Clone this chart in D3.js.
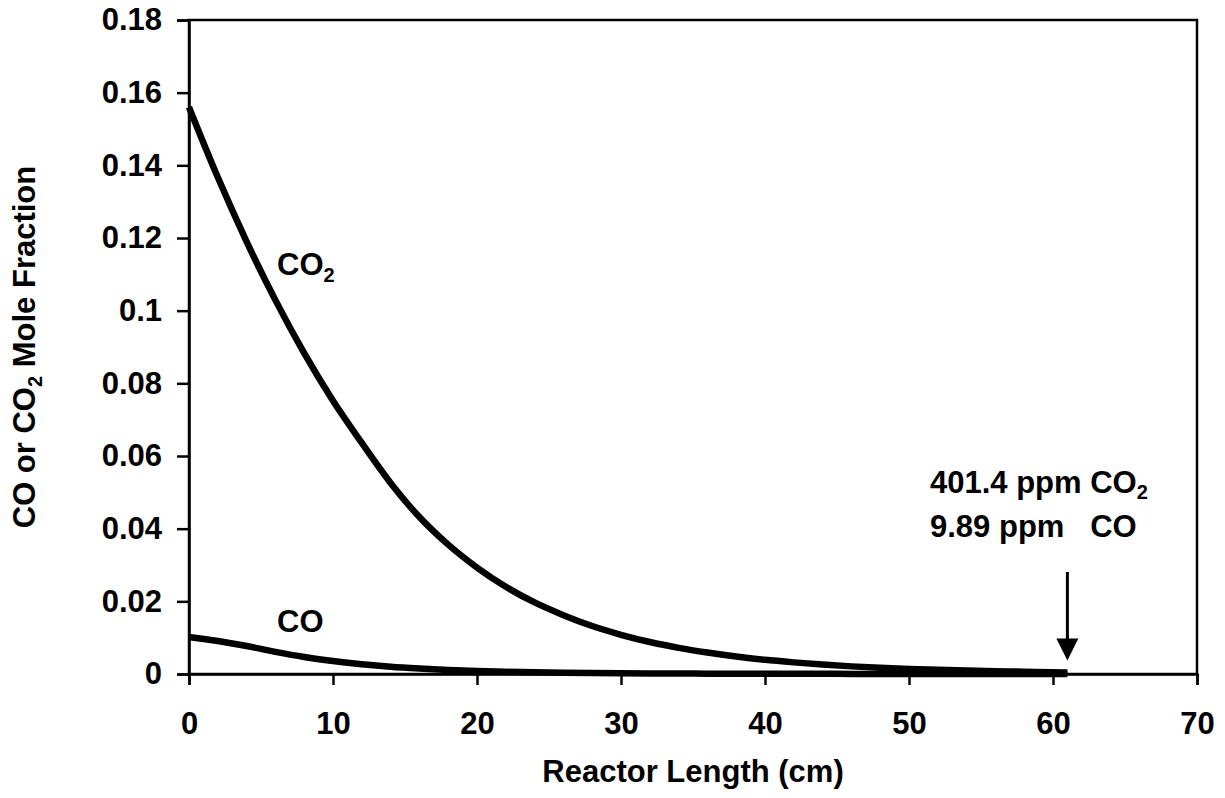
<!DOCTYPE html>
<html>
<head>
<meta charset="utf-8">
<script src="https://cdn.jsdelivr.net/npm/d3@7"></script>
<style>
  html, body { margin: 0; padding: 0; background: #fff; }
  svg text { font-family: "Liberation Sans", Arial, sans-serif; font-weight: bold; fill: #000; }
</style>
</head>
<body>
<svg id="chart" width="1225" height="798"></svg>
<script>
// Reactor position (cm)
const lengthCm = [0, 2, 4, 6, 8, 10, 12, 14, 16, 18, 20, 22, 24, 26, 28, 30, 32, 34, 36, 38, 40, 42, 44, 46, 48, 50, 52, 54, 56, 58, 60, 61];
// CO2 mole fraction along the reactor
const co2Fraction = [0.1560, 0.1367, 0.1190, 0.1029, 0.0883, 0.0752, 0.0636, 0.0526, 0.0432, 0.0356, 0.0293, 0.0240, 0.0197, 0.0162, 0.0132, 0.0108, 0.0088, 0.0072, 0.0059, 0.0048, 0.0039, 0.0032, 0.0026, 0.0021, 0.0017, 0.0014, 0.00115, 0.00095, 0.00078, 0.00063, 0.00046, 0.0004014];
// CO mole fraction along the reactor
const coFraction = [0.0102, 0.0091, 0.0077, 0.0061, 0.0047, 0.0036, 0.0027, 0.0020, 0.0015, 0.0011, 0.0008, 0.0006, 0.00045, 0.00034, 0.00026, 0.0002, 0.00016, 0.00012, 0.0001, 0.00008, 0.00006, 0.00005, 0.00004, 0.000033, 0.000027, 0.000022, 0.000018, 0.000015, 0.000013, 0.000011, 0.00001, 0.00000989];

const xTicks = [0, 10, 20, 30, 40, 50, 60, 70];
const xTickLabels = ["0", "10", "20", "30", "40", "50", "60", "70"];
const yTicks = [0, 0.02, 0.04, 0.06, 0.08, 0.1, 0.12, 0.14, 0.16, 0.18];
const yTickLabels = ["0", "0.02", "0.04", "0.06", "0.08", "0.1", "0.12", "0.14", "0.16", "0.18"];

const outletLength = 61;
const outletNote = [["401.4 ppm CO", "2"], ["9.89 ppm   CO", ""]];

const svg = d3.select("#chart");
const plot = { left: 189, right: 1197, top: 20, bottom: 674 };
const fontSize = 31;
const subSize = 20;

const x = d3.scaleLinear().domain([0, 70]).range([plot.left, plot.right]);
const y = d3.scaleLinear().domain([0, 0.18]).range([plot.bottom, plot.top]);

// Frame
svg.append("rect")
  .attr("x", plot.left).attr("y", plot.top)
  .attr("width", plot.right - plot.left).attr("height", plot.bottom - plot.top)
  .attr("fill", "none").attr("stroke", "#000").attr("stroke-width", 2.5);

// Axes
const xAxis = d3.axisBottom(x).tickValues(xTicks)
  .tickFormat((d, i) => xTickLabels[i]).tickSize(11).tickPadding(27);
const yAxis = d3.axisLeft(y).tickValues(yTicks)
  .tickFormat((d, i) => yTickLabels[i]).tickSize(12).tickPadding(15);

const gx = svg.append("g").attr("transform", `translate(0,${plot.bottom})`).call(xAxis);
const gy = svg.append("g").attr("transform", `translate(${plot.left},0)`).call(yAxis);
[gx, gy].forEach(g => {
  g.select(".domain").attr("stroke-width", 2.5);
  g.selectAll(".tick line").attr("stroke-width", 2.5);
  g.selectAll(".tick text").style("font-size", fontSize + "px").style("font-weight", "bold")
    .style("font-family", "'Liberation Sans', Arial, sans-serif");
});

// Curves
const line = d3.line().x((d, i) => x(lengthCm[i])).y(d => y(d)).curve(d3.curveMonotoneX);
svg.append("path").datum(co2Fraction).attr("d", line)
  .attr("fill", "none").attr("stroke", "#000").attr("stroke-width", 6.5).attr("stroke-linejoin", "round");
svg.append("path").datum(coFraction).attr("d", line)
  .attr("fill", "none").attr("stroke", "#000").attr("stroke-width", 6.5).attr("stroke-linejoin", "round");

// Axis titles
svg.append("text").attr("x", (plot.left + plot.right) / 2).attr("y", 782)
  .attr("text-anchor", "middle").style("font-size", fontSize + "px").text("Reactor Length (cm)");

const yt = svg.append("text").attr("transform", `translate(35,${(plot.top + plot.bottom) / 2}) rotate(-90)`)
  .attr("text-anchor", "middle").style("font-size", fontSize + "px");
yt.append("tspan").text("CO or CO");
yt.append("tspan").attr("dy", 7).style("font-size", subSize + "px").text("2");
yt.append("tspan").attr("dy", -7).text(" Mole Fraction");

// Series labels
const lab1 = svg.append("text").attr("x", 277).attr("y", 275).style("font-size", fontSize + "px");
lab1.append("tspan").text("CO");
lab1.append("tspan").attr("dy", 7).style("font-size", subSize + "px").text("2");
svg.append("text").attr("x", 277).attr("y", 632).style("font-size", fontSize + "px").text("CO");

// Outlet annotation
outletNote.forEach((row, i) => {
  const t = svg.append("text").attr("x", 930).attr("y", 493 + i * 44).style("font-size", fontSize + "px")
    .style("white-space", "pre");
  t.append("tspan").text(row[0]);
  if (row[1]) t.append("tspan").attr("dy", 6).style("font-size", subSize + "px").text(row[1]);
});

// Arrow pointing at the reactor outlet
const ax = x(outletLength);
const tipY = y(co2Fraction[co2Fraction.length - 1]) - 12;
svg.append("line").attr("x1", ax).attr("x2", ax).attr("y1", 572).attr("y2", tipY - 18)
  .attr("stroke", "#000").attr("stroke-width", 3);
svg.append("path")
  .attr("d", `M${ax - 11},${tipY - 22} L${ax + 11},${tipY - 22} L${ax},${tipY} Z`)
  .attr("fill", "#000");
</script>
</body>
</html>
